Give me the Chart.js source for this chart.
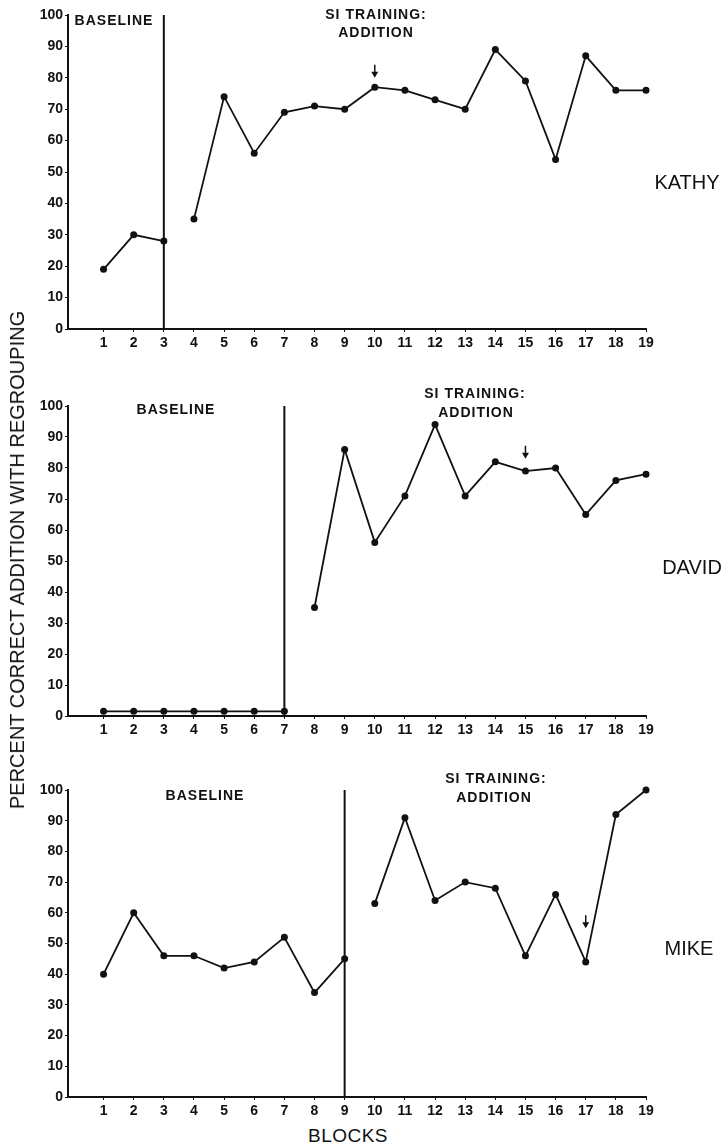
<!DOCTYPE html>
<html>
<head>
<meta charset="utf-8">
<script src="https://cdn.jsdelivr.net/npm/chart.js@4.4.0/dist/chart.umd.min.js"></script>
<style>
  body { margin: 0; background: #fff; }
  #wrap { position: relative; width: 726px; height: 1146px; overflow: hidden; font-family: "Liberation Sans", Arial, Helvetica, sans-serif; color: #111; }
  canvas { position: absolute; left: 0; }
  .lbl { position: absolute; transform: translate(-50%, -50%); white-space: nowrap; font-size: 14px; font-weight: bold; letter-spacing: 1px; line-height: 1; }
  .name { position: absolute; transform: translate(-50%, -50%); font-size: 20px; line-height: 1; }
  #ytitle { position: absolute; left: 17px; top: 560px; transform: translate(-50%, -50%) rotate(-90deg); font-size: 20px; white-space: nowrap; line-height: 1; }
</style>
</head>
<body>
<div id="wrap">
  <canvas id="c1" width="726" height="355" style="top:0px"></canvas>
  <canvas id="c2" width="726" height="351" style="top:391px"></canvas>
  <canvas id="c3" width="726" height="348" style="top:775px"></canvas>

  <div class="lbl" style="left:114px;top:20px">BASELINE</div>
  <div class="lbl" style="left:376px;top:14px">SI TRAINING:</div>
  <div class="lbl" style="left:376px;top:32px">ADDITION</div>
  <div class="name" style="left:687px;top:182px">KATHY</div>

  <div class="lbl" style="left:176px;top:409px">BASELINE</div>
  <div class="lbl" style="left:475px;top:393px">SI TRAINING:</div>
  <div class="lbl" style="left:476px;top:412px">ADDITION</div>
  <div class="name" style="left:692px;top:567px">DAVID</div>

  <div class="lbl" style="left:205px;top:795px">BASELINE</div>
  <div class="lbl" style="left:496px;top:778px">SI TRAINING:</div>
  <div class="lbl" style="left:494px;top:797px">ADDITION</div>
  <div class="name" style="left:689px;top:948px">MIKE</div>

  <div class="name" style="left:348px;top:1135px;font-size:19px;letter-spacing:0.5px">BLOCKS</div>
  <div id="ytitle">PERCENT CORRECT ADDITION WITH REGROUPING</div>
</div>
<script>
// blocks on the x axis and the y tick values
const blocks = [1, 2, 3, 4, 5, 6, 7, 8, 9, 10, 11, 12, 13, 14, 15, 16, 17, 18, 19];
const yTicks = [0, 10, 20, 30, 40, 50, 60, 70, 80, 90, 100];

// percent correct per block
const kathy = [19, 30, 28, 35, 74, 56, 69, 71, 70, 77, 76, 73, 70, 89, 79, 54, 87, 76, 76];
const david = [1.5, 1.5, 1.5, 1.5, 1.5, 1.5, 1.5, 35, 86, 56, 71, 94, 71, 82, 79, 80, 65, 76, 78];
const mike = [40, 60, 46, 46, 42, 44, 52, 34, 45, 63, 91, 64, 70, 68, 46, 66, 44, 92, 100];

// last baseline block, and where the arrows sit (block, tip value)
const phaseEnd = [3, 7, 9];
const arrowBlock = [10, 15, 17];
const arrowTip = [80, 83, 55];

const INK = '#111';
const FONT = '"Liberation Sans", Arial, Helvetica, sans-serif';

const arrowPlugin = {
  id: 'arrow',
  afterDatasetsDraw(chart, args, opts) {
    const ctx = chart.ctx;
    const x = chart.scales.x.getPixelForValue(opts.block);
    const tip = chart.scales.y.getPixelForValue(opts.tip);
    ctx.save();
    ctx.strokeStyle = INK;
    ctx.fillStyle = INK;
    ctx.lineWidth = 1.5;
    ctx.beginPath();
    ctx.moveTo(x, tip - 13);
    ctx.lineTo(x, tip - 4);
    ctx.stroke();
    ctx.beginPath();
    ctx.moveTo(x - 3.5, tip - 6);
    ctx.lineTo(x + 3.5, tip - 6);
    ctx.lineTo(x, tip);
    ctx.closePath();
    ctx.fill();
    ctx.restore();
  }
};

function pts(values, from, to) {
  const out = [];
  for (let i = from; i < to; i++) out.push({ x: blocks[i], y: values[i] });
  return out;
}

function lineSet(data) {
  return {
    data: data,
    borderColor: INK,
    backgroundColor: INK,
    borderWidth: 1.8,
    pointRadius: 3.5,
    pointHoverRadius: 3.5,
    pointBorderWidth: 0,
    tension: 0,
    clip: false
  };
}

function makeChart(id, values, n) {
  const end = phaseEnd[n];
  const phaseLine = {
    data: [{ x: end, y: 0 }, { x: end, y: 100 }],
    borderColor: INK,
    borderWidth: 2,
    pointRadius: 0,
    clip: false
  };
  return new Chart(document.getElementById(id), {
    type: 'line',
    data: {
      datasets: [
        phaseLine,
        lineSet(pts(values, 0, end)),
        lineSet(pts(values, end, blocks.length))
      ]
    },
    options: {
      responsive: false,
      animation: false,
      layout: { padding: { top: 15, right: 80, left: 0, bottom: 0 } },
      plugins: {
        legend: { display: false },
        tooltip: { enabled: false },
        arrow: { block: arrowBlock[n], tip: arrowTip[n] }
      },
      scales: {
        x: {
          type: 'linear',
          min: -0.18,
          max: 19,
          afterBuildTicks: s => { s.ticks = blocks.map(v => ({ value: v })); },
          afterFit: s => { s.height = 26; },
          ticks: { color: INK, font: { family: FONT, size: 14, weight: 'bold' }, padding: 3, autoSkip: false, maxRotation: 0 },
          grid: { drawOnChartArea: false, tickLength: 3, color: INK, lineWidth: 1 },
          border: { color: INK, width: 2 }
        },
        y: {
          min: 0,
          max: 100,
          afterBuildTicks: s => { s.ticks = yTicks.map(v => ({ value: v })); },
          afterFit: s => { s.width = 68; },
          ticks: { color: INK, font: { family: FONT, size: 14, weight: 'bold' }, padding: 2 },
          grid: { drawOnChartArea: false, tickLength: 3, color: INK, lineWidth: 1 },
          border: { color: INK, width: 2 }
        }
      }
    },
    plugins: [arrowPlugin]
  });
}

makeChart('c1', kathy, 0);
makeChart('c2', david, 1);
makeChart('c3', mike, 2);
</script>
</body>
</html>
